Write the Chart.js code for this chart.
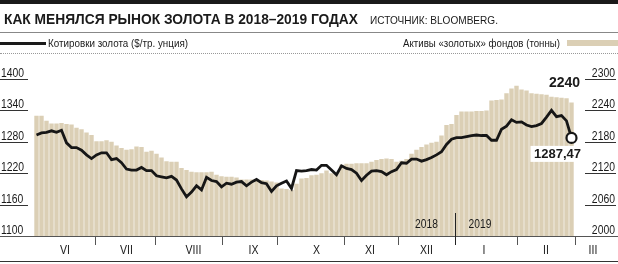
<!DOCTYPE html>
<html>
<head>
<meta charset="utf-8">
<script src="https://cdn.jsdelivr.net/npm/chart.js@4.4.1/dist/chart.umd.min.js"></script>
<style>
body { margin:0; background:#fff; }
#box { position:relative; width:618px; height:264px; overflow:hidden; font-family:"Liberation Sans", Arial, sans-serif; color:#1a1a1a; }
#chart { position:absolute; left:0; top:0; }
.fit { position:absolute; white-space:nowrap; transform-origin:left top; }
.topbar { position:absolute; left:0; top:0; width:618px; height:4px; background:#1a1a1a; }
#title { left:4px; top:10px; font-weight:bold; font-size:15.5px; line-height:17px; }
#source { left:370px; top:14px; font-size:11px; line-height:12px; }
.rule { position:absolute; left:0; top:32px; width:618px; height:1px; background:#888; }
.leg-line { position:absolute; left:0; top:42px; width:46px; height:3px; background:#1a1a1a; }
#legL { left:48px; top:37px; font-size:11.5px; line-height:12px; }
#legR { left:403px; top:37px; font-size:11.5px; line-height:12px; }
.leg-swatch { position:absolute; left:567px; top:40px; width:51px; height:6px; background:#dbcfb5; }
.dots { position:absolute; left:0; top:53px; width:618px; border-top:1px dotted #999; }
.bottom { position:absolute; left:0; top:261px; width:618px; height:1px; background:#333; }
</style>
</head>
<body>
<div id="box">
  <canvas id="chart" width="618" height="264"></canvas>
  <div class="topbar"></div>
  <div class="fit" id="title" data-w="354">КАК МЕНЯЛСЯ РЫНОК ЗОЛОТА В 2018–2019 ГОДАХ</div>
  <div class="fit" id="source" data-w="128">ИСТОЧНИК: BLOOMBERG.</div>
  <div class="rule"></div>
  <div class="leg-line"></div>
  <div class="fit" id="legL" data-w="140">Котировки золота ($/тр. унция)</div>
  <div class="fit" id="legR" data-w="157">Активы «золотых» фондов (тонны)</div>
  <div class="leg-swatch"></div>
  <div class="dots"></div>
  <div class="bottom"></div>
</div>
<script>
// цена золота, $/тр. унция
const goldPrice = [1293,1297,1298,1301,1298,1302,1278,1269,1269,1264,
  1255,1248,1255,1259,1259,1246,1248,1240,1228,1226,
  1226,1231,1225,1225,1215,1213,1211,1214,1207,1190,
  1175,1184,1196,1188,1212,1206,1204,1194,1201,1199,
  1203,1204,1196,1203,1208,1202,1200,1185,1196,1201,
  1205,1191,1225,1224,1225,1227,1226,1235,1235,1226,
  1217,1234,1229,1227,1220,1206,1216,1224,1225,1223,
  1217,1223,1227,1240,1239,1247,1247,1243,1246,1250,
  1255,1261,1275,1285,1288,1288,1290,1292,1293,1292,
  1292,1283,1283,1304,1310,1322,1317,1318,1312,1309,
  1311,1315,1327,1340,1328,1330,1320,1287.47]

// активы фондов, тонны
const etfHoldings = [2230,2230,2220,2215,2215,2216,2214,2213,2207,2204,
  2198,2193,2181,2181,2183,2180,2173,2168,2165,2166,
  2171,2170,2161,2163,2157,2150,2143,2142,2142,2130,
  2126,2123,2122,2122,2122,2123,2117,2114,2113,2113,
  2112,2108,2108,2108,2108,2107,2106,2104,2102,2091,
  2090,2088,2100,2110,2111,2116,2117,2120,2125,2120,
  2120,2136,2138,2138,2139,2139,2139,2142,2145,2147,
  2148,2147,2142,2144,2147,2157,2165,2170,2175,2178,
  2180,2192,2212,2214,2231,2238,2238,2238,2239,2239,
  2240,2259,2260,2261,2273,2282,2287,2280,2278,2273,
  2272,2271,2270,2266,2265,2264,2263,2255]

const labels = goldPrice.map((v, i) => {
  const d = new Date(2018, 5, 1)
  d.setDate(d.getDate() + Math.round(i * 2.53))
  return d.toLocaleDateString('ru-RU')
})

const monthNames = ['VI','VII','VIII','IX','X','XI','XII','I','II','III']
const monthLabelPos = [5.7, 18.0, 31.4, 43.4, 56.0, 66.7, 78.0, 89.5, 101.9, 111.3]
const monthStartPos = [11.7, 23.7, 37.0, 48.0, 61.4, 72.2, 83.7, 96.0, 107.7]
const yearNames = ['2018', '2019']
const yearLabelPos = [78.0, 88.7]
const yearSplitPos = 83.7

const leftTicks = [1100, 1160, 1220, 1280, 1340, 1400]
const rightTicks = [2000, 2060, 2120, 2180, 2240, 2300]

const sans = '"Liberation Sans", Arial, sans-serif'

// узкий шрифт: сжимаем по горизонтали
function narrowText(ctx, text, x, y, align, sx) {
  ctx.save()
  ctx.translate(x, y)
  ctx.scale(sx, 1)
  ctx.textAlign = align
  ctx.fillText(text, 0, 0)
  ctx.restore()
}

const decor = {
  id: 'decor',
  afterDatasetsDraw(chart) {
    const ctx = chart.ctx
    const area = chart.chartArea
    const x = chart.scales.x
    const y = chart.scales.y
    const y2 = chart.scales.y2
    ctx.save()

    // подписи осей с подчёркиванием
    ctx.strokeStyle = '#333'
    ctx.fillStyle = '#1a1a1a'
    ctx.lineWidth = 1
    ctx.textBaseline = 'alphabetic'
    ctx.font = '13px ' + sans
    leftTicks.forEach(v => {
      const py = Math.round(y.getPixelForValue(v)) + 0.5
      ctx.beginPath(); ctx.moveTo(0, py); ctx.lineTo(28, py); ctx.stroke()
      narrowText(ctx, String(v), 1, py - 3, 'left', 0.8)
    })
    rightTicks.forEach(v => {
      const py = Math.round(y2.getPixelForValue(v)) + 0.5
      ctx.beginPath(); ctx.moveTo(585, py); ctx.lineTo(616, py); ctx.stroke()
      narrowText(ctx, String(v), 615, py - 3, 'right', 0.8)
    })

    // ось X
    ctx.strokeStyle = '#555'
    ctx.beginPath(); ctx.moveTo(0, area.bottom + 0.5); ctx.lineTo(618, area.bottom + 0.5); ctx.stroke()
    monthStartPos.forEach(p => {
      const px = Math.round(x.getPixelForValue(p)) + 0.5
      ctx.beginPath(); ctx.moveTo(px, area.bottom); ctx.lineTo(px, area.bottom + 9); ctx.stroke()
    })
    ctx.strokeStyle = '#222'
    const sx = Math.round(x.getPixelForValue(yearSplitPos)) + 0.5
    ctx.beginPath(); ctx.moveTo(sx, area.bottom - 23); ctx.lineTo(sx, area.bottom + 9); ctx.stroke()

    ctx.font = '13.5px ' + sans
    monthNames.forEach((m, i) => {
      narrowText(ctx, m, x.getPixelForValue(monthLabelPos[i]), area.bottom + 18, 'center', 0.78)
    })
    ctx.font = '12.5px ' + sans
    yearNames.forEach((t, i) => {
      narrowText(ctx, t, x.getPixelForValue(yearLabelPos[i]), area.bottom - 8, 'center', 0.82)
    })

    // подписи последних значений
    const lastPt = chart.getDatasetMeta(1).data[goldPrice.length - 1]
    const lastBar = chart.getDatasetMeta(0).data[etfHoldings.length - 1]
    ctx.fillStyle = '#fff'
    ctx.fillRect(lastPt.x - 41, lastPt.y + 8, 53, 16)
    ctx.fillStyle = '#1a1a1a'
    ctx.textAlign = 'center'
    ctx.textBaseline = 'middle'
    ctx.font = 'bold 13px ' + sans
    ctx.fillText('1287,47', lastPt.x - 14, lastPt.y + 16.5)
    ctx.font = 'bold 14px ' + sans
    ctx.fillText('2240', lastBar.x - 7, lastBar.y - 19)
    ctx.restore()
  }
}

const ctx = document.getElementById('chart').getContext('2d')
const chart = new Chart(ctx, {
  data: {
    labels: labels,
    datasets: [{
      type: 'bar',
      data: etfHoldings,
      yAxisID: 'y2',
      backgroundColor: '#dbcfb5',
      barPercentage: 1,
      categoryPercentage: 0.88,
      order: 2
    }, {
      type: 'line',
      data: goldPrice,
      yAxisID: 'y',
      borderColor: '#161616',
      borderWidth: 2.8,
      tension: 0,
      clip: false,
      pointRadius: c => c.dataIndex === goldPrice.length - 1 ? 5 : 0,
      pointBackgroundColor: '#fff',
      pointBorderColor: '#161616',
      pointBorderWidth: 2.2,
      order: 1
    }]
  },
  options: {
    responsive: false,
    animation: false,
    layout: { padding: { top: 79, bottom: 28, left: 0, right: 2 } },
    plugins: { legend: { display: false }, tooltip: { enabled: false } },
    scales: {
      x: { display: false, offset: true },
      y: {
        position: 'left',
        min: 1100, max: 1400,
        afterFit: s => { s.width = 34 },
        afterBuildTicks: s => { s.ticks = leftTicks.map(v => ({ value: v })) },
        grid: { display: false, drawTicks: false },
        border: { display: false },
        ticks: { display: false }
      },
      y2: {
        position: 'right',
        min: 2000, max: 2300,
        afterFit: s => { s.width = 42 },
        afterBuildTicks: s => { s.ticks = rightTicks.map(v => ({ value: v })) },
        grid: { display: false, drawTicks: false },
        border: { display: false },
        ticks: { display: false }
      }
    }
  },
  plugins: [decor]
})

// подгоняем ширину текстов шапки
document.querySelectorAll('.fit').forEach(el => {
  const w = el.getBoundingClientRect().width
  el.style.transform = 'scaleX(' + (Number(el.dataset.w) / w) + ')'
})
</script>
</body>
</html>
